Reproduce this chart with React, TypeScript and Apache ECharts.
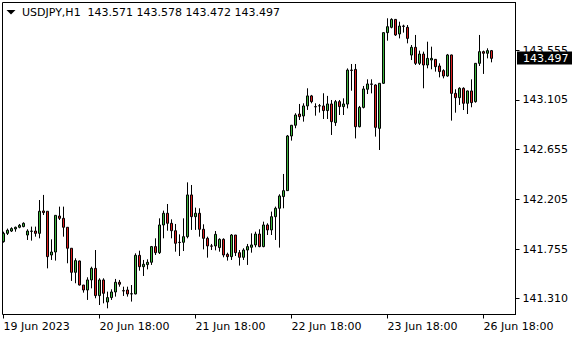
import React, { useEffect, useRef } from "react";
import * as echarts from "echarts";

const symbol = "USDJPY,H1";
const headerValues = ["143.571", "143.578", "143.472", "143.497"];
const lastPriceText = "143.497";

// trading sessions (hourly bars)
const sessionDays = ["19 Jun", "20 Jun", "21 Jun", "22 Jun", "23 Jun", "26 Jun"];
const sessionFrom = [18, 0, 0, 0, 0, 0];
const sessionTo = [23, 23, 23, 23, 23, 20];
const emptySlots = 6;
const firstLabel = "19 Jun 2023";
const labelEvery = 24;

const opens = [
  141.822, 141.897, 141.918, 141.937, 141.952, 141.958, 141.882, 141.915, 141.918, 141.897,
  142.100, 142.097, 141.701, 141.728, 142.054, 142.033, 141.952, 141.762, 141.544, 141.647,
  141.429, 141.384, 141.475, 141.580, 141.333, 141.475, 141.275, 141.315, 141.366, 141.454,
  141.378, 141.384, 141.348, 141.348, 141.698, 141.595, 141.614, 141.635, 141.777, 141.722,
  141.973, 142.079, 141.988, 141.921, 141.816, 141.816, 141.867, 142.245, 142.048, 142.079,
  141.934, 141.852, 141.783, 141.783, 141.768, 141.843, 141.707, 141.686, 141.882, 141.722,
  141.680, 141.746, 141.771, 141.792, 141.891, 141.777, 141.973, 141.928, 142.048, 142.124,
  142.230, 142.284, 142.779, 142.876, 142.978, 142.960, 143.051, 143.142, 143.045, 143.051,
  143.051, 143.009, 143.069, 142.900, 143.090, 143.045, 143.068, 143.376, 143.382, 142.863,
  143.038, 143.202, 143.250, 143.241, 142.848, 143.256, 143.715, 143.763, 143.835, 143.703,
  143.775, 143.763, 143.512, 143.582, 143.437, 143.521, 143.422, 143.467, 143.473, 143.413,
  143.371, 143.322, 143.513, 143.165, 143.126, 143.211, 143.075, 143.187, 143.090, 143.437,
  143.543, 143.528, 143.552,
];
const closes = [
  141.897, 141.925, 141.940, 141.952, 141.970, 141.988, 141.918, 141.918, 141.897, 142.097,
  142.085, 141.686, 141.728, 142.060, 142.033, 141.952, 141.762, 141.544, 141.650, 141.429,
  141.384, 141.475, 141.580, 141.333, 141.475, 141.354, 141.315, 141.366, 141.454, 141.436,
  141.375, 141.348, 141.350, 141.698, 141.595, 141.617, 141.635, 141.777, 141.722, 141.973,
  142.079, 141.988, 141.921, 141.807, 141.814, 141.867, 142.245, 142.048, 142.079, 141.934,
  141.852, 141.783, 141.781, 141.888, 141.843, 141.701, 141.686, 141.882, 141.722, 141.680,
  141.746, 141.777, 141.792, 141.891, 141.777, 141.973, 141.928, 142.048, 142.124, 142.236,
  142.284, 142.779, 142.876, 142.969, 142.954, 143.051, 143.142, 143.090, 143.043, 143.053,
  143.009, 143.069, 142.909, 143.090, 143.045, 143.069, 143.376, 143.373, 142.863, 143.038,
  143.205, 143.250, 143.247, 142.857, 143.256, 143.715, 143.769, 143.835, 143.694, 143.775,
  143.772, 143.663, 143.582, 143.437, 143.521, 143.422, 143.482, 143.482, 143.407, 143.362,
  143.322, 143.513, 143.165, 143.126, 143.211, 143.075, 143.187, 143.081, 143.437, 143.543,
  143.528, 143.552, 143.482,
];
const lows = [
  141.813, 141.882, 141.909, 141.912, 141.943, 141.952, 141.837, 141.831, 141.867, 141.852,
  142.063, 141.580, 141.656, 141.650, 142.018, 141.867, 141.626, 141.466, 141.445, 141.425,
  141.360, 141.294, 141.399, 141.309, 141.248, 141.263, 141.218, 141.294, 141.324, 141.414,
  141.330, 141.324, 141.279, 141.345, 141.559, 141.511, 141.571, 141.611, 141.701, 141.710,
  141.852, 141.921, 141.852, 141.731, 141.692, 141.737, 141.852, 141.928, 141.928, 141.867,
  141.752, 141.677, 141.746, 141.743, 141.731, 141.680, 141.650, 141.656, 141.692, 141.605,
  141.656, 141.611, 141.722, 141.771, 141.771, 141.771, 141.882, 141.882, 141.837, 141.768,
  142.124, 142.284, 142.737, 142.849, 142.924, 142.909, 143.015, 143.075, 142.963, 142.991,
  142.933, 142.933, 142.788, 142.870, 142.969, 142.969, 143.029, 143.189, 142.757, 142.857,
  143.029, 143.159, 143.165, 142.773, 142.652, 143.250, 143.642, 143.754, 143.685, 143.663,
  143.715, 143.618, 143.467, 143.422, 143.422, 143.211, 143.392, 143.383, 143.362, 143.310,
  143.301, 143.316, 142.918, 142.990, 143.060, 143.014, 142.978, 143.039, 143.081, 143.413,
  143.341, 143.482, 143.446,
];
const highs = [
  141.912, 141.940, 141.952, 141.958, 141.982, 141.997, 141.934, 141.958, 141.958, 142.199,
  142.245, 142.097, 141.843, 142.060, 142.139, 142.139, 141.952, 141.762, 141.671, 141.650,
  141.429, 141.499, 141.595, 141.746, 141.490, 141.490, 141.369, 141.390, 141.484, 141.475,
  141.414, 141.414, 141.429, 141.716, 141.740, 141.656, 141.662, 141.783, 141.852, 142.033,
  142.103, 142.163, 142.024, 141.982, 141.888, 142.033, 142.359, 142.335, 142.130, 142.124,
  141.979, 141.867, 141.801, 141.918, 141.852, 141.852, 141.722, 141.891, 141.882, 141.746,
  141.762, 141.801, 141.897, 141.912, 141.934, 142.003, 141.988, 142.094, 142.139, 142.251,
  142.435, 142.788, 142.879, 142.985, 143.069, 143.075, 143.211, 143.151, 143.075, 143.069,
  143.166, 143.142, 143.105, 143.105, 143.105, 143.120, 143.391, 143.431, 143.431, 143.051,
  143.232, 143.292, 143.292, 143.247, 143.256, 143.718, 143.845, 143.845, 143.838, 143.814,
  143.787, 143.784, 143.603, 143.694, 143.552, 143.543, 143.633, 143.588, 143.476, 143.437,
  143.383, 143.522, 143.516, 143.202, 143.220, 143.220, 143.190, 143.292, 143.440, 143.694,
  143.552, 143.573, 143.558,
];
const priceTicks = [141.31, 141.755, 142.205, 142.655, 143.105, 143.555];
const priceMin = 141.162;
const priceMax = 143.988;

const pad = (n: number) => (n < 10 ? "0" + n : "" + n);

const categories: string[] = [];
sessionDays.forEach((d, i) => {
  for (let h = sessionFrom[i]; h <= sessionTo[i]; h++) categories.push(`${d} ${pad(h)}:00`);
});
const barCount = categories.length;
for (let i = 0; i < emptySlots; i++) categories.push("");

const FONT = '"DejaVu Sans", Verdana, sans-serif';
const UP = "#3cb43c";
const DOWN = "#dc1e1e";

export default function App() {
  const ref = useRef<HTMLDivElement>(null);
  useEffect(() => {
    if (!ref.current) return;
    const chart = echarts.init(ref.current, undefined, { renderer: "svg" });
    const data = opens.map((o, i) => [o, closes[i], lows[i], highs[i]]);
    const showIdx = (i: number) => i % labelEvery === 0 && i < barCount;
    chart.setOption({
      animation: false,
      backgroundColor: "#ffffff",
      grid: { left: 3.5, right: 64.5, top: 2.5, bottom: 25.5, containLabel: false },
      xAxis: {
        type: "category",
        data: categories,
        boundaryGap: false,
        axisLine: { show: true, lineStyle: { color: "#000", width: 1 } },
        axisTick: { show: true, length: 4, interval: showIdx, lineStyle: { color: "#000" } },
        axisLabel: {
          interval: showIdx,
          formatter: (v: string, i: number) => (i === 0 ? firstLabel : v),
          align: "left",
          margin: 6,
          color: "#000",
          fontFamily: FONT,
          fontSize: 11,
        },
        splitLine: { show: false },
      },
      yAxis: {
        type: "value",
        position: "right",
        min: priceMin,
        max: priceMax,
        scale: true,
        axisLine: { show: true, lineStyle: { color: "#000", width: 1 } },
        axisTick: { show: true, length: 4, customValues: priceTicks, lineStyle: { color: "#000" } },
        axisLabel: {
          customValues: priceTicks,
          formatter: (v: number) => v.toFixed(3),
          margin: 7,
          color: "#000",
          fontFamily: FONT,
          fontSize: 11,
          align: "left",
        },
        splitLine: { show: false },
      },
      series: [
        {
          type: "candlestick",
          data,
          barWidth: 2,
          clip: false,
          itemStyle: {
            color: UP,
            color0: DOWN,
            borderColor: "#000",
            borderColor0: "#000",
            borderWidth: 1,
          },
        },
      ],
    });
    const lastY = chart.convertToPixel({ yAxisIndex: 0 }, closes[closes.length - 1]) as number;
    chart.setOption({
      graphic: [
        {
          type: "rect",
          z: 50,
          silent: true,
          shape: { x: 2.5, y: 2.5, width: 513, height: 312 },
          style: { fill: "none", stroke: "#000", lineWidth: 1 },
        },
        {
          type: "polygon",
          z: 50,
          shape: { points: [[6.5, 10], [15.5, 10], [11, 14.5]] },
          style: { fill: "#000" },
        },
        {
          type: "text",
          z: 50,
          style: {
            x: 22,
            y: 12.5,
            text: symbol + "  " + headerValues.join(" "),
            font: `11px ${FONT}`,
            fill: "#000",
            verticalAlign: "middle",
          },
        },
        {
          type: "rect",
          z: 100,
          shape: { x: 517, y: Math.round(lastY) - 6.5, width: 55, height: 13 },
          style: { fill: "#000" },
        },
        {
          type: "text",
          z: 101,
          style: {
            x: 523,
            y: Math.round(lastY),
            text: lastPriceText,
            font: `11px ${FONT}`,
            fill: "#fff",
            verticalAlign: "middle",
          },
        },
      ],
    });
    return () => chart.dispose();
  }, []);
  return (
    <div
      ref={ref}
      style={{ position: "fixed", left: 0, top: 0, width: 580, height: 340, background: "#fff" }}
    />
  );
}
